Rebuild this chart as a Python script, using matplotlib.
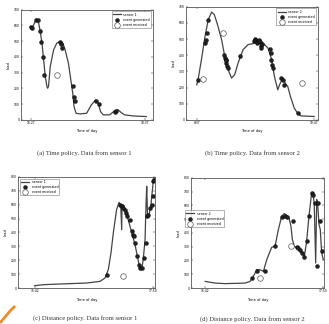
import matplotlib.pyplot as plt
from matplotlib.lines import Line2D

# ---- data (minutes from first tick, load) ----
# (a) time policy, sensor 1
a_x = [-0.8, 1.1, 3, 6, 8.7, 10.6, 12.5, 14.4, 16.3, 18.2, 19, 20, 22, 25.8, 29.5, 33.3, 36.4, 39,
       42.8, 45.5, 47.7, 49.2, 51.5, 56, 63.6, 69, 73.9, 76.9, 79.5, 82.6, 90, 95.8, 99.6, 103, 107,
       116.7, 131.8]
a_y = [594, 583, 604, 641, 615, 562, 488, 382, 276, 212, 201, 212, 339, 445, 488, 498, 488, 445,
       360, 255, 170, 85, 42, 38, 42, 95, 127, 106, 53, 32, 32, 59, 64, 47, 32, 25, 21]
a_gen_x = [0, 1.1, 6, 7.6, 10.6, 11.7, 13.3, 14.8, 33.3, 34.5, 35.2, 48.5, 49.2, 50, 74.2, 78, 95.8, 97.7]
a_gen_y = [590, 583, 636, 632, 562, 492, 399, 286, 494, 479, 458, 216, 148, 117, 117, 102, 53, 57]
a_rcv_x = [29.5]
a_rcv_y = [286]

# (b) time policy, sensor 2
b_x = [0, 1.8, 5.5, 9.2, 12.8, 16.5, 19.4, 23, 27.5, 31, 34.8, 38.5, 42, 45.8, 51.3, 56.8, 62.3,
       65.9, 69.6, 75, 78.8, 82.4, 86, 89.7, 91.6, 95.2, 97.8, 100.7, 103.7, 108, 111.7, 115.3, 130]
b_y = [217, 259, 383, 518, 621, 667, 652, 590, 497, 393, 311, 259, 280, 352, 435, 466, 472, 487,
       497, 466, 445, 383, 269, 186, 217, 259, 228, 207, 145, 72, 41, 25, 21]
b_gen_x = [1.1, 9.2, 11, 12.8, 9.9, 30.4, 31.1, 31.9, 32.6, 33.3, 34.1, 32.2, 47.6, 63.4, 64.1,
           64.8, 65.9, 67, 67.8, 68.5, 69.6, 70.7, 71.4, 72.2, 80.6, 81.7, 82.4, 83.2, 83.9,
           93.8, 95.2, 96.7, 111.7]
b_gen_y = [248, 476, 538, 617, 497, 404, 383, 369, 352, 331, 321, 373, 393, 487, 501, 493, 487,
           476, 487, 497, 483, 460, 445, 470, 441, 414, 373, 342, 321, 259, 248, 217, 41]
b_rcv_x = [7.3, 29.3, 116.5]
b_rcv_y = [253, 538, 228]

# (c) distance policy, sensor 1
c_x = [0, 9, 34.3, 56, 70.4, 75.8, 79.4, 82.3, 84.8, 88.4, 91, 92.8, 93.9, 94.2, 96.4, 99.3,
       102.9, 105.8, 108.3, 110.8, 113, 115.5, 117.3, 119.1, 120.2, 120.9, 121.7, 123, 125.3,
       126.7, 128.2, 130]
c_y = [17, 24, 31, 36, 48, 72, 132, 252, 396, 565, 617, 600, 420, 600, 589, 529, 444, 372, 312,
       228, 156, 132, 216, 348, 613, 733, 540, 516, 589, 685, 781, 793]
c_gen_x = [77.6, 92.1, 93.9, 95.7, 97.5, 98.6, 100, 102.9, 104.7, 106.5, 107.2, 108.3, 110.1,
           113, 113.7, 115.5, 118, 120.2, 120.9, 122.4, 124.5, 126.3, 127.4, 128.2, 128.9]
c_gen_y = [96, 601, 589, 577, 565, 541, 521, 492, 408, 384, 372, 324, 228, 168, 144, 144, 216,
           324, 516, 528, 577, 601, 661, 769, 781]
c_rcv_x = [94.8]
c_rcv_y = [89]

# (d) distance policy, sensor 2
d_x = [0, 10.8, 21.7, 43.3, 48.7, 51.3, 54.2, 56, 59.6, 63.2, 66.8, 72.2, 75.8, 79.4, 83, 85.9,
       88.4, 91, 93.1, 94.6, 96.8, 99.3, 101.8, 104.7, 107.6, 110.1, 112.6, 115.5, 117.3, 118.4,
       119.9, 121, 122, 123.5, 124.9, 126.4, 128.2]
d_y = [48, 36, 32, 36, 48, 73, 109, 133, 133, 121, 206, 296, 303, 424, 521, 541, 526, 509, 448,
       352, 303, 291, 279, 255, 230, 339, 521, 691, 679, 594, 182, 642, 618, 461, 424, 255, 206]
d_gen_x = [51.3, 56, 65, 75.8, 83, 86.6, 88.4, 95.7, 99.3, 101.1, 102.9, 104.7, 107.6, 110.1,
           112.6, 115.5, 117.3, 119.1, 120.9, 122.7, 124.5, 126.4]
d_gen_y = [73, 121, 121, 308, 517, 526, 517, 485, 297, 291, 274, 255, 226, 339, 521, 691, 679,
           618, 158, 618, 485, 267]
d_rcv_x = [59.6, 93.1]
d_rcv_y = [73, 308]

captions = ["(a) Time policy. Data from sensor 1", "(b) Time policy. Data from sensor 2",
            "(c) Distance policy. Data from sensor 1", "(d) Distance policy. Data from sensor 2"]

fig = plt.figure(figsize=(3.29, 3.24), dpi=100)
fig.patch.set_facecolor("white")


def panel(rect, x, y, gx, gy, rx, ry, xlim, ylim, xticks, xlabels, sensor, leg_loc, leg_anchor):
    ax = fig.add_axes(rect)
    ax.plot(x, y, color="#444444", lw=0.9, label=sensor)
    ax.plot(gx, gy, ls="none", marker="o", ms=2.8, mfc="#222222", mec="black", mew=0.3,
            label="event generated")
    ax.plot(rx, ry, ls="none", marker="o", ms=4, mfc="white", mec="#555555", mew=0.5,
            label="event received")
    ax.set_xlim(xlim)
    ax.set_ylim(ylim)
    ax.set_xticks(xticks)
    ax.set_xticklabels(xlabels)
    ax.set_yticks(range(0, ylim[1] + 1, 100))
    ax.tick_params(labelsize=2.2, length=1.2, width=0.3, pad=1, direction="in", top=True, right=True)
    for s in ax.spines.values():
        s.set_linewidth(0.6)
        s.set_color("#555555")
    ax.set_xlabel("Time of day", fontsize=2.6, labelpad=3)
    ax.set_ylabel("load", fontsize=2.6, labelpad=2)
    leg = ax.legend(loc=leg_loc, bbox_to_anchor=leg_anchor, fontsize=2.3, frameon=True,
                    fancybox=False, edgecolor="#555555", handlelength=2.5, borderpad=0.4,
                    labelspacing=0.35)
    leg.get_frame().set_linewidth(0.4)
    return ax


panel([0.064, 0.630, 0.401, 0.340], a_x, a_y, a_gen_x, a_gen_y, a_rcv_x, a_rcv_y,
      (-11.4, 139.5), (0, 700), [0, 130], ["16:27", "18:37"], "sensor 1", "upper right", (1, 1))
panel([0.565, 0.630, 0.401, 0.349], b_x, b_y, b_gen_x, b_gen_y, b_rcv_x, b_rcv_y,
      (-12, 134), (0, 700), [0, 130], ["8:37", "10:47"], "sensor 2", "upper right", (1, 1))
panel([0.055, 0.111, 0.416, 0.343], c_x, c_y, c_gen_x, c_gen_y, c_rcv_x, c_rcv_y,
      (-18, 129.8), (0, 800), [0, 128], ["15:42", "17:50"], "sensor 1", "upper left", (0, 1))
panel([0.581, 0.111, 0.404, 0.340], d_x, d_y, d_gen_x, d_gen_y, d_rcv_x, d_rcv_y,
      (-15.2, 129), (0, 800), [0, 128], ["15:42", "17:50"], "sensor 2", "upper left", (-0.06, 0.72))

cap_pos = [(84, 153), (252, 153), (85, 318), (252, 319)]
for (px, py), txt in zip(cap_pos, captions):
    fig.text(px / 329, 1 - py / 324, txt, ha="center", va="center", fontsize=4.8,
             family="Liberation Serif", color="#333333")

# orange scan mark in the lower-left corner
fig.add_artist(Line2D([0 / 329, 5 / 329, 10 / 329, 15 / 329],
                      [1 - 323 / 324, 1 - 317 / 324, 1 - 311 / 324, 1 - 306 / 324],
                      transform=fig.transFigure, color="#f08c28", lw=2, solid_capstyle="butt"))

fig.savefig("out.png", dpi=100)
